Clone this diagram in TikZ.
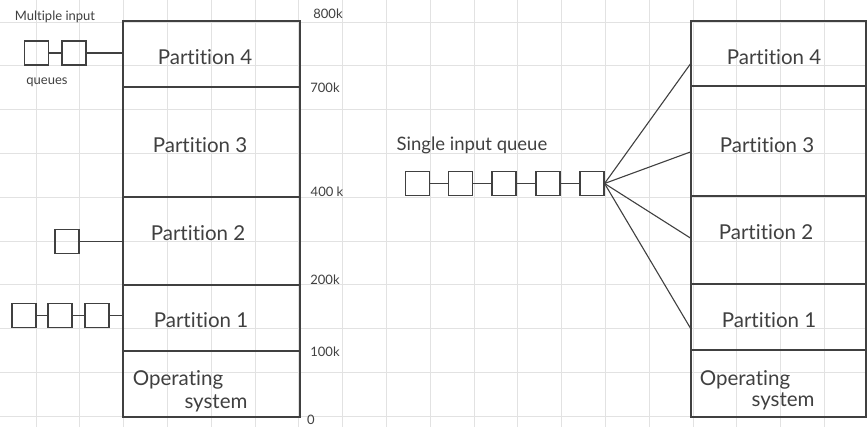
\documentclass[tikz,border=0pt]{standalone}
\usepackage{fontspec}
\setmainfont{Lato}[Ligatures=NoCommon]
\definecolor{ink}{HTML}{404040}
\definecolor{gridc}{HTML}{E2E2E2}
\begin{document}
\begin{tikzpicture}[x=1pt,y=-1pt,
  every node/.style={inner sep=0pt, text=ink},
  gridline/.style={draw=gridc, line width=0.8pt},
  part/.style={draw=ink, line width=1.3pt, rectangle},
  lpart/.style={part, minimum width=177pt},
  rpart/.style={part, minimum width=175pt},
  qbox/.style={draw=ink, line width=1.1pt, rectangle, minimum size=24pt},
  conn/.style={draw=ink, line width=1.1pt},
  big/.style={font=\fontsize{20.5}{24}\selectfont},
  small/.style={font=\fontsize{13}{15}\selectfont},
  mid/.style={font=\fontsize{13}{15}\selectfont}]
\useasboundingbox (0,0) rectangle (867,427);
\fill[white] (0,0) rectangle (867,427);
% background grid
\foreach \i in {0,...,20} {\draw[gridline] ({-7.8+43.8*\i},0) -- ({-7.8+43.8*\i},427);}
\foreach \j in {0,...,10} {\draw[gridline] (0,{-21.8+43.8*\j}) -- (867,{-21.8+43.8*\j});}
% left memory
\node[lpart, minimum height=66pt] (lp4) at (211.5,54) {};
\node[lpart, minimum height=110pt] (lp3) at (211.5,142) {};
\node[lpart, minimum height=88pt] (lp2) at (211.5,241) {};
\node[lpart, minimum height=66pt] (lp1) at (211.5,318) {};
\node[lpart, minimum height=66pt] (los) at (211.5,384) {};
% right memory
\node[rpart, minimum height=65pt] (rp4) at (778.5,53.5) {};
\node[rpart, minimum height=110pt] (rp3) at (778.5,141) {};
\node[rpart, minimum height=88pt] (rp2) at (778.5,240) {};
\node[rpart, minimum height=66pt] (rp1) at (778.5,317) {};
\node[rpart, minimum height=67pt] (ros) at (778.5,383.5) {};
% left texts
\node[big] (tl4) at (205,57) {Partition 4};
\node[big] (tl3) at (200,145) {Partition 3};
\node[big] (tl2) at (198,233) {Partition 2};
\node[big] (tl1) at (201,320) {Partition 1};
\node[big] (tlo1) at (178,380) {Operating};
\node[big] (tlo2) at (216,403) {system};
% right texts
\node[big] (tr4) at (774,57) {Partition 4};
\node[big] (tr3) at (767,145) {Partition 3};
\node[big] (tr2) at (766,232) {Partition 2};
\node[big] (tr1) at (769,320) {Partition 1};
\node[big] (tro1) at (745,380) {Operating};
\node[big] (tro2) at (783,401) {system};
% address labels
\node[small] (k800) at (328,14) {800k};
\node[small] (k700) at (325,88) {700k};
\node[small] (k400) at (327,192) {400 k};
\node[small] (k200) at (325,280) {200k};
\node[small] (k100) at (325,352) {100k};
\node[small] (k0) at (311,420) {0};
% multiple input queues
\node[mid] (tmi) at (55,17) {Multiple input};
\node[mid] (tq) at (47,82) {queues};
\node[qbox] (m1) at (36.5,53) {};
\node[qbox] (m2) at (74,53) {};
\draw[conn] (m1) -- (m2);
\draw[conn] (m2) -- (m2 -| lp4.west);
\node[qbox] (s1) at (67,241.5) {};
\draw[conn] (s1) -- (s1 -| lp2.west);
\node[qbox] (a1) at (24,315.5) {};
\node[qbox] (a2) at (60,315.5) {};
\node[qbox] (a3) at (97,315.5) {};
\draw[conn] (a1) -- (a2);
\draw[conn] (a2) -- (a3);
\draw[conn] (a3) -- (a3 -| lp1.west);
% single input queue
\node[font=\fontsize{18.5}{22}\selectfont] (tsq) at (472,145) {Single input queue};
\node[qbox] (q1) at (417.5,183.5) {};
\node[qbox] (q2) at (460.5,183.5) {};
\node[qbox] (q3) at (504,183.5) {};
\node[qbox] (q4) at (548,183.5) {};
\node[qbox] (q5) at (592,183.5) {};
\draw[conn] (q1) -- (q2);
\draw[conn] (q2) -- (q3);
\draw[conn] (q3) -- (q4);
\draw[conn] (q4) -- (q5);
\draw[conn] (q5.east) -- ([yshift=-10.5pt]rp4.west);
\draw[conn] (q5.east) -- ([yshift=-11pt]rp3.west);
\draw[conn] (q5.east) -- ([yshift=2pt]rp2.west);
\draw[conn] (q5.east) -- ([yshift=-11pt]rp1.west);
\end{tikzpicture}
\end{document}
